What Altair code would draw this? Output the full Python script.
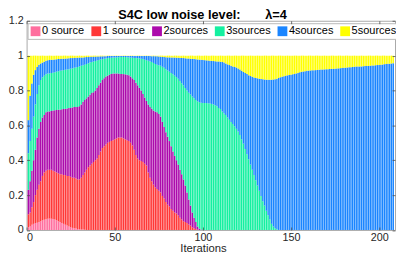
import altair as alt
import pandas as pd

iterations = list(range(1, 209))
labels = ["0 source", "1 source", "2sources", "3sources", "4sources", "5sources"]
colors = ["#FF6E9E", "#FF3838", "#AC0AAC", "#14F0A0", "#1A85FF", "#FFFF00"]

# cumulative top of each layer (iterations 1..208)
c0 = [0.015, 0.02, 0.03, 0.035, 0.04, 0.042, 0.045, 0.05, 0.055, 0.058,
      0.062, 0.064, 0.065, 0.065, 0.063, 0.06, 0.056, 0.05, 0.045, 0.04,
      0.035, 0.03, 0.025, 0.02, 0.016, 0.012, 0.01, 0.008, 0.006, 0.004,
      0.003, 0.002, 0.001] + [0.0] * 175

c1 = [0.09, 0.10, 0.13, 0.16, 0.20, 0.23, 0.26, 0.28, 0.31, 0.33,
      0.34, 0.345, 0.345, 0.345, 0.34, 0.335, 0.33, 0.325, 0.32, 0.32,
      0.315, 0.315, 0.31, 0.31, 0.305, 0.30, 0.30, 0.295, 0.29, 0.29,
      0.30, 0.315, 0.33, 0.345, 0.36, 0.37, 0.38, 0.39, 0.40, 0.41,
      0.43, 0.45, 0.47, 0.48, 0.49, 0.50, 0.505, 0.51, 0.515, 0.52,
      0.525, 0.53, 0.53, 0.53, 0.525, 0.52, 0.515, 0.51, 0.50, 0.485,
      0.46, 0.43, 0.41, 0.40, 0.395, 0.39, 0.38, 0.37, 0.33, 0.30,
      0.28, 0.26, 0.245, 0.235, 0.225, 0.215, 0.195, 0.18, 0.16, 0.145,
      0.135, 0.12, 0.11, 0.10, 0.095, 0.085, 0.07, 0.06, 0.05, 0.045,
      0.04, 0.032, 0.025, 0.015, 0.01, 0.005, 0.002] + [0.0] * 111

c2 = [0.23, 0.28, 0.34, 0.40, 0.46, 0.53, 0.58, 0.62, 0.645, 0.66,
      0.675, 0.68, 0.68, 0.683, 0.685, 0.686, 0.688, 0.69, 0.69, 0.692,
      0.694, 0.695, 0.697, 0.70, 0.70, 0.703, 0.705, 0.705, 0.705, 0.71,
      0.72, 0.735, 0.745, 0.755, 0.765, 0.775, 0.785, 0.79, 0.80, 0.815,
      0.83, 0.845, 0.86, 0.87, 0.88, 0.885, 0.89, 0.895, 0.897, 0.898,
      0.898, 0.897, 0.895, 0.895, 0.894, 0.893, 0.89, 0.888, 0.88, 0.87,
      0.86, 0.845, 0.83, 0.815, 0.80, 0.78, 0.76, 0.74, 0.72, 0.705,
      0.695, 0.685, 0.68, 0.675, 0.665, 0.65, 0.62, 0.59, 0.56, 0.535,
      0.51, 0.48, 0.45, 0.425, 0.40, 0.375, 0.345, 0.32, 0.29, 0.255,
      0.215, 0.175, 0.14, 0.10, 0.07, 0.045, 0.02, 0.008, 0.003] + [0.0] * 109

c3 = [0.44, 0.51, 0.58, 0.65, 0.72, 0.78, 0.83, 0.86, 0.875, 0.885,
      0.893, 0.897, 0.898, 0.90, 0.902, 0.905, 0.908, 0.91, 0.913, 0.915,
      0.917, 0.919, 0.92, 0.922, 0.925, 0.927, 0.93, 0.932, 0.935, 0.938,
      0.942, 0.945, 0.948, 0.952, 0.956, 0.96, 0.963, 0.966, 0.969, 0.972,
      0.975, 0.978, 0.98, 0.982, 0.984, 0.986, 0.987, 0.988, 0.989, 0.99,
      0.99, 0.991, 0.992, 0.992, 0.992, 0.992, 0.991, 0.99, 0.989, 0.988,
      0.987, 0.986, 0.985, 0.984, 0.982, 0.98, 0.977, 0.974, 0.97, 0.967,
      0.963, 0.958, 0.952, 0.948, 0.945, 0.942, 0.936, 0.93, 0.922, 0.915,
      0.908, 0.90, 0.893, 0.885, 0.877, 0.868, 0.855, 0.842, 0.83, 0.815,
      0.80, 0.787, 0.777, 0.765, 0.755, 0.745, 0.738, 0.733, 0.73, 0.729,
      0.728, 0.728, 0.727, 0.725, 0.723, 0.72, 0.715, 0.71, 0.70, 0.694,
      0.68, 0.668, 0.66, 0.645, 0.632, 0.62, 0.608, 0.595, 0.58, 0.565,
      0.545, 0.52, 0.495, 0.465, 0.435, 0.405, 0.375, 0.345, 0.315, 0.285,
      0.255, 0.225, 0.195, 0.165, 0.14, 0.11, 0.085, 0.06, 0.035, 0.02,
      0.01, 0.004] + [0.0] * 66

c4 = [0.63, 0.77, 0.84, 0.89, 0.917, 0.935, 0.948, 0.955, 0.96, 0.965,
      0.97, 0.973, 0.975, 0.976, 0.977, 0.978, 0.979, 0.98, 0.981, 0.982,
      0.982, 0.983, 0.984, 0.985, 0.986, 0.986, 0.987, 0.988, 0.988, 0.989,
      0.99, 0.99, 0.991, 0.992, 0.992, 0.993, 0.993, 0.994, 0.994, 0.995,
      0.995, 0.996, 0.996, 0.997, 0.997, 0.998, 0.998, 0.998, 0.998, 0.998,
      0.998, 0.998, 0.998, 0.998, 0.998, 0.998, 0.998, 0.998, 0.998, 0.998,
      0.998, 0.998, 0.998, 0.998, 0.998, 0.998, 0.998, 0.998, 0.998, 0.998,
      0.997, 0.997, 0.996, 0.996, 0.995, 0.994, 0.993, 0.992, 0.991, 0.99,
      0.99, 0.99, 0.989, 0.989, 0.988, 0.988, 0.987, 0.987, 0.986, 0.985,
      0.984, 0.983, 0.982, 0.981, 0.98, 0.979, 0.978, 0.977, 0.976, 0.975,
      0.974, 0.973, 0.972, 0.971, 0.97, 0.969, 0.968, 0.967, 0.966, 0.965,
      0.963, 0.96, 0.955, 0.95, 0.946, 0.942, 0.938, 0.935, 0.932, 0.926,
      0.92, 0.913, 0.906, 0.90, 0.895, 0.888, 0.883, 0.879, 0.875, 0.872,
      0.87, 0.868, 0.866, 0.865, 0.863, 0.862, 0.861, 0.861, 0.862, 0.863,
      0.865, 0.868, 0.872, 0.876, 0.879, 0.882, 0.885, 0.887, 0.889, 0.891,
      0.893, 0.895, 0.898, 0.901, 0.904, 0.907, 0.909, 0.911, 0.913, 0.914,
      0.915, 0.916, 0.916, 0.917, 0.918, 0.919, 0.92, 0.92, 0.921, 0.922,
      0.922, 0.923, 0.924, 0.924, 0.925, 0.926, 0.927, 0.928, 0.929, 0.93,
      0.931, 0.932, 0.933, 0.934, 0.935, 0.936, 0.937, 0.937, 0.938, 0.938,
      0.939, 0.94, 0.94, 0.941, 0.942, 0.943, 0.944, 0.945, 0.946, 0.947,
      0.948, 0.949, 0.951, 0.952, 0.953, 0.954, 0.955, 0.956]

x_ticks = [0, 50, 100, 150, 200]
y_ticks = [0, 0.2, 0.4, 0.6, 0.8, 1, 1.2]

rows = []
for idx, it in enumerate(iterations):
    b = [0.0, c0[idx], c1[idx], c2[idx], c3[idx], c4[idx], 1.0]
    for k, lab in enumerate(labels):
        lo, hi = b[k], b[k + 1]
        if hi > lo:
            rows.append({"x0": it - 0.4, "x1": it + 0.4, "lo": lo, "hi": hi, "cat": lab})
df = pd.DataFrame(rows)

FONT = "Liberation Sans"
TXT = "#262626"
xscale = alt.Scale(domain=[0, 209], nice=False, zero=False)
yscale = alt.Scale(domain=[0, 1.2], nice=False, zero=False)

tick_common = dict(offset=-3, tickSize=3, domain=False, grid=False, zindex=1,
                   tickColor="#4a4a4a", tickWidth=0.8)

bars = alt.Chart(df).mark_bar(strokeWidth=0).encode(
    x=alt.X("x0:Q", scale=xscale,
            axis=alt.Axis(orient="bottom", values=x_ticks, title="Iterations",
                          labelBaseline="alphabetic", labelPadding=10.3,
                          labelFont=FONT, labelFontSize=11, labelColor=TXT,
                          titleFont=FONT, titleFontSize=11.5, titleFontWeight="normal",
                          titleColor=TXT, titleBaseline="alphabetic", titleY=25,
                          titleX=180, **tick_common)),
    x2="x1:Q",
    y=alt.Y("lo:Q", scale=yscale,
            axis=alt.Axis(orient="left", values=y_ticks, format="~g", title=None,
                          labelPadding=3.5, labelFont=FONT, labelFontSize=11,
                          labelColor=TXT, labelBaseline="middle", **tick_common)),
    y2="hi:Q",
    color=alt.Color("cat:N", scale=alt.Scale(domain=labels, range=colors),
                    legend=alt.Legend(orient="none", legendX=1, legendY=2.5,
                                      direction="horizontal", columns=6, title=None,
                                      symbolType="square", symbolSize=100,
                                      symbolStrokeWidth=0, symbolOpacity=1,
                                      labelFont=FONT, labelFontSize=11.2,
                                      labelColor="black", labelOffset=1,
                                      columnPadding=6, rowPadding=0, padding=2.5,
                                      fillColor="white", strokeColor="#b8b8b8")),
)

frame = alt.Chart(pd.DataFrame({"x": [0], "y": [0]})).mark_point(opacity=0).encode(
    x=alt.X("x:Q", scale=xscale,
            axis=alt.Axis(orient="top", values=x_ticks, labels=False, title=None,
                          **tick_common)),
    y=alt.Y("y:Q", scale=yscale,
            axis=alt.Axis(orient="right", values=y_ticks, labels=False, title=None,
                          **tick_common)),
)

chart = alt.layer(bars, frame).resolve_axis(
    x="independent", y="independent"
).properties(
    width=376,
    height=213.5,
    autosize="none",
    padding={"left": 19, "top": 10.5, "right": 1, "bottom": 22},
    title=alt.TitleParams(
        text="S4C low noise level:" + "\u00a0" * 7 + "λ=4",
        font=FONT, fontSize=13, fontWeight="bold", color="black",
        anchor="middle", baseline="alphabetic", offset=-4.5, dy=13, dx=-8.5,
        frame="group",
    ),
).configure_view(
    stroke="#a8a8a8", strokeWidth=1
)

chart.save("out.html", embed_options={"renderer": "svg", "actions": False})
